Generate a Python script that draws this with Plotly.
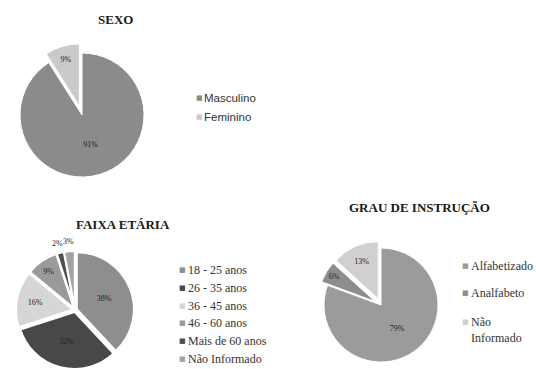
import math
import plotly.graph_objects as go

W, H = 536, 369

# ---- data ----
sexo_labels = ["Masculino", "Feminino"]
sexo_values = [91, 9]

faixa_labels = ["18 - 25 anos", "26 - 35 anos", "36 - 45 anos",
                "46 - 60 anos", "Mais de 60 anos", "Não Informado"]
faixa_values = [38, 32, 16, 9, 2, 3]

grau_labels = ["Alfabetizado", "Analfabeto", "Não<br>Informado"]
grau_values = [79, 6, 13]

# ---- styling ----
sexo_colors = ["#8b8b8b", "#cacaca"]
faixa_colors = ["#8e8e8e", "#484848", "#d6d6d6", "#9a9a9a", "#4e4e4e", "#a2a2a2"]
grau_colors = ["#9b9b9b", "#8d8d8d", "#d0d0d0"]

SERIF = "Liberation Serif"
SANS = "Liberation Sans"
LABEL_COLOR = "#222222"


def domain(cx, cy, r, pull):
    """Pixel centre/radius -> paper domain (plotly shrinks r by 1+maxPull)."""
    half = r * (1 + pull)
    x0, x1 = (cx - half) / W, (cx + half) / W
    y0, y1 = 1 - (cy + half) / H, 1 - (cy - half) / H
    clip = lambda v: max(0.0, min(1.0, v))
    return dict(x=[clip(x0), clip(x1)], y=[clip(y0), clip(y1)])


def px(x):
    return x / W


def py(y):
    return 1 - y / H


fig = go.Figure()

fig.add_trace(go.Pie(
    labels=sexo_labels, values=sexo_values, sort=False,
    direction="clockwise", rotation=0,
    pull=[0, 0.15],
    marker=dict(colors=sexo_colors, line=dict(color="white", width=1)),
    texttemplate="%{value}%", textposition="inside",
    insidetextorientation="horizontal",
    textfont=dict(family=SERIF, size=8, color=LABEL_COLOR),
    domain=domain(82, 115, 62, 0.15), showlegend=False, hoverinfo="label+value",
))

# age groups: the two thinnest slices get their labels set outside the rim
FX_CX, FX_CY, FX_R, FX_PULL = 75, 310, 57, 0.035
faixa_inside = [v >= 5 for v in faixa_values]
fig.add_trace(go.Pie(
    labels=faixa_labels, values=faixa_values, sort=False,
    direction="clockwise", rotation=0,
    pull=[FX_PULL] * len(faixa_values),
    marker=dict(colors=faixa_colors, line=dict(color="white", width=2)),
    texttemplate="%{value}%",
    textposition=["inside" if f else "none" for f in faixa_inside],
    insidetextorientation="horizontal",
    textfont=dict(family=SERIF, size=8, color=LABEL_COLOR),
    domain=domain(FX_CX, FX_CY, FX_R, FX_PULL), showlegend=False,
    hoverinfo="label+value",
))

fig.add_trace(go.Pie(
    labels=grau_labels, values=grau_values, sort=False,
    direction="clockwise", rotation=0,
    pull=[0, 0.12, 0.12],
    marker=dict(colors=grau_colors, line=dict(color="white", width=1)),
    texttemplate="%{value}%", textposition="inside",
    insidetextorientation="horizontal",
    textfont=dict(family=SERIF, size=8, color=LABEL_COLOR),
    domain=domain(381, 305, 57, 0.12), showlegend=False, hoverinfo="label+value",
))

annotations = []

# labels of the thin age slices, placed just outside the rim at their mid-angle
total = sum(faixa_values)
cum = 0
for v, inside in zip(faixa_values, faixa_inside):
    mid = (cum + v / 2) / total * 2 * math.pi
    cum += v
    if inside:
        continue
    rr = FX_R * 1.2
    annotations.append(dict(
        text=f"{v}%", x=px(FX_CX + rr * math.sin(mid)),
        y=py(FX_CY - rr * math.cos(mid)), xref="paper", yref="paper",
        xanchor="center", yanchor="middle", showarrow=False,
        font=dict(family=SERIF, size=8, color=LABEL_COLOR),
    ))

# chart titles
for text, x, y in [("SEXO", 115, 20), ("FAIXA ETÁRIA", 123, 224),
                   ("GRAU DE INSTRUÇÃO", 419, 208)]:
    annotations.append(dict(
        text=f"<b>{text}</b>", x=px(x), y=py(y), xref="paper", yref="paper",
        xanchor="center", yanchor="middle", showarrow=False,
        font=dict(family=SERIF, size=13, color="#1a1a1a"),
    ))


def legend_rows(labels, colors, x_key, x_text, ys, family, size):
    """Small square key + label text for each slice of one pie."""
    for lab, col, y in zip(labels, colors, ys):
        extra_lines = lab.count("<br>")
        annotations.append(dict(
            text="■", x=px(x_key), y=py(y), xref="paper", yref="paper",
            xanchor="center", yanchor="middle", showarrow=False,
            font=dict(family="DejaVu Sans", size=7, color=col),
        ))
        annotations.append(dict(
            text=lab, x=px(x_text), y=py(y + extra_lines * size * 0.65),
            xref="paper", yref="paper",
            xanchor="left", yanchor="middle", align="left", showarrow=False,
            font=dict(family=family, size=size, color="#333333"),
        ))


legend_rows(sexo_labels, sexo_colors, 199, 202, [98, 117], SANS, 11.5)
legend_rows(faixa_labels, faixa_colors, 182, 186,
            [270, 288, 306, 323, 341, 359], SERIF, 12)
legend_rows(grau_labels, grau_colors, 465, 469, [266, 293, 322], SERIF, 12)

fig.update_layout(
    width=W, height=H,
    margin=dict(l=0, r=0, t=0, b=0),
    paper_bgcolor="white", plot_bgcolor="white",
    annotations=annotations,
)

fig.write_html("out.html")
